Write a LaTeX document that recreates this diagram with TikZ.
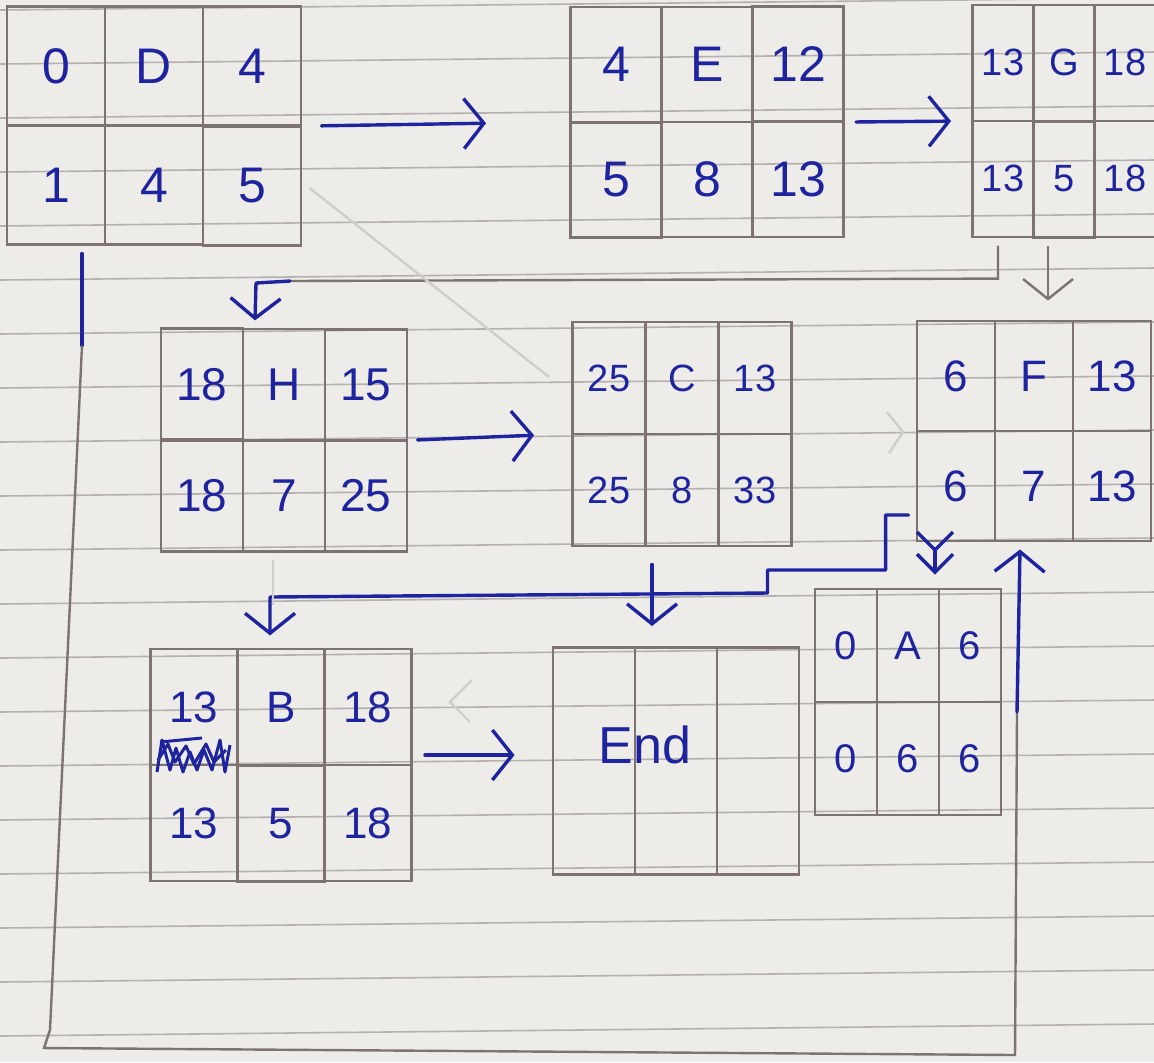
\documentclass[tikz,border=0pt]{standalone}
\usepackage{fontspec}
\setmainfont{Liberation Sans}
\usetikzlibrary{matrix,arrows.meta}

\definecolor{ink}{RGB}{30,35,160}
\definecolor{pencil}{RGB}{125,115,112}
\definecolor{ruled}{RGB}{182,177,174}
\definecolor{faint}{RGB}{208,206,203}
\definecolor{paper}{RGB}{237,236,232}

\tikzset{
  actbox/.style n args={3}{matrix of nodes, nodes in empty cells,
    column sep=-1.4pt, row sep=-1.4pt,
    nodes={draw=pencil, line width=1.4pt, minimum width=#1, minimum height=#2,
      inner sep=0pt, text=ink, font=\fontsize{#3}{#3}\selectfont}},
  flow/.style={draw=ink, line width=1.7pt, line cap=round, line join=round},
  tip/.style={-{Straight Barb[length=10pt,width=25pt]}},
  pencilline/.style={draw=pencil, line width=1.2pt},
  faintline/.style={draw=faint, line width=1.2pt},
  rule/.style={draw=ruled, line width=0.8pt},
}

\begin{document}
\begin{tikzpicture}[x=0.5pt,y=-0.5pt]
  \useasboundingbox (0,0) rectangle (1154,1062);
  \clip (0,0) rectangle (1154,1062);
  \fill[paper] (0,0) rectangle (1154,1062);
  \foreach \k in {0,...,19}
    \draw[rule] (0,{10+54*\k}) -- (1154,{-2+54*\k});

  % activities
  \matrix (D) [actbox={49pt}{59.5pt}{25}] at (154,126) {0 & D & 4 \\ 1 & 4 & 5 \\};
  \matrix (E) [actbox={45.5pt}{57.5pt}{25}] at (707,122) {4 & E & 12 \\ 5 & 8 & 13 \\};
  \matrix (G) [actbox={30.5pt}{58pt}{19}] at (1064,121) {13 & G & 18 \\ 13 & 5 & 18 \\};
  \matrix (H) [actbox={41pt}{55.5pt}{23}] at (284,440) {18 & H & 15 \\ 18 & 7 & 25 \\};
  \matrix (C) [actbox={36.5pt}{56pt}{19}] at (682,434) {25 & C & 13 \\ 25 & 8 & 33 \\};
  \matrix (F) [actbox={39pt}{55pt}{22}] at (1034,431) {6 & F & 13 \\ 6 & 7 & 13 \\};
  \matrix (B) [actbox={43.5pt}{58pt}{22}] at (281,765) {13 & B & 18 \\ 13 & 5 & 18 \\};
  \matrix (End) [actbox={41pt}{113.5pt}{26}] at (676,761) { & & \\};
  \matrix (A) [actbox={31pt}{56.5pt}{20}] at (908,702) {0 & A & 6 \\ 0 & 6 & 6 \\};
  \node[text=ink, font=\fontsize{26}{26}\selectfont] (endlabel) at (645,745) {End};

  % crossed-out word in B
  \draw[ink, line width=1.5pt, line join=round]
    (157,772) -- (162,740) -- (170,770) -- (176,748) -- (183,772) -- (190,752)
    -- (197,770) -- (204,750) -- (212,770) -- (220,740) -- (225,772) -- (230,745);
  \draw[ink, line width=1.5pt, line join=round]
    (158,760) -- (168,744) -- (175,762) -- (186,746) -- (194,764) -- (206,744) -- (214,762) -- (226,750);
  \draw[ink, line width=1.5pt] (160,742) -- (202,738);

  % connectors
  \draw[flow,tip,shorten <=6pt,shorten >=38pt] (D.east) -- (E.west);
  \draw[flow,tip,shorten <=2pt,shorten >=6.5pt] (E.east) -- (G.west);
  \draw[flow,tip,shorten <=1pt,shorten >=15pt] (H.east) -- (C.west);
  \draw[flow,tip,shorten <=2.5pt,shorten >=15pt] ([yshift=5pt]B.east) -- ([yshift=3pt]End.west);
  \draw[flow,tip,shorten <=5pt,shorten >=6.5pt] ([xshift=-15pt]C.south) -- ([xshift=-12pt]End.north);
  \draw[flow,tip,shorten >=2.5pt] ([yshift=-42pt]F.west) -- ++(-23,0) -- ++(0,55)
    -- ++(-118,0) -- ++(0,23) -- (270,597) -- ([xshift=-5.5pt]B.north);
  \draw[flow,-{Straight Barb[length=9pt,width=18pt] Straight Barb[length=9pt,width=18pt]},
    shorten <=1pt,shorten >=3pt] ([xshift=-49.5pt]F.south) -- ([xshift=13.5pt]A.north);

  % G down to H and F
  \draw[pencilline] ([xshift=-33pt]G.south) -- ++(0,33) -- (290,281) coordinate (gh);
  \draw[flow,tip] (gh) -- (256,283) -- ([xshift=-14.5pt]H.north);
  \draw[pencilline,tip,shorten >=6pt] ([xshift=-8pt]G.south) -- ([xshift=7pt]F.north);

  % D round the outside to F
  \draw[flow] ([xshift=-36pt]D.south) -- ++(0,92) coordinate (d1);
  \draw[pencilline] (d1) -- (50,1030) -- (44,1048) -- (1015,1055) -- (1017,712) coordinate (f1);
  \draw[flow,tip] (f1) -- ([xshift=-7pt]F.south);

  % rubbed-out pencil marks
  \draw[faintline] ([yshift=-31pt]D.east) -- ([xshift=-7.5pt,yshift=28.5pt]C.west);
  \draw[faintline] ([xshift=-5.5pt]H.south) -- ++(0,45);
  \draw[faintline] (887,412) -- (903,432) -- (889,453);
  \draw[faintline] (472,680) -- (450,702) -- (470,722);
\end{tikzpicture}
\end{document}
